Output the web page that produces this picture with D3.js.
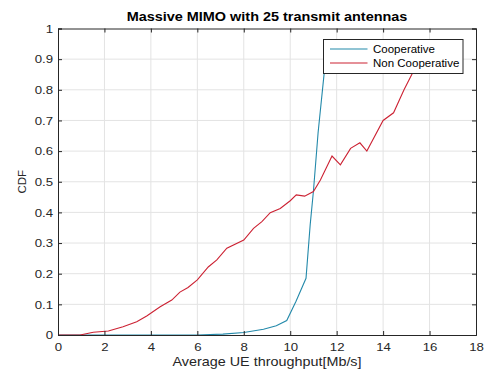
<!DOCTYPE html>
<html>
<head>
<meta charset="utf-8">
<script src="https://cdn.jsdelivr.net/npm/d3@7"></script>
<style>
    body { margin: 0; background: #ffffff; }
    svg { display: block; font-family: "Liberation Sans", Arial, sans-serif; }
    .grid line { stroke: #e3e3e3; stroke-width: 1; }
</style>
</head>
<body>
<svg class="chart"></svg>
<script>
var chartTitle = "Massive MIMO with 25 transmit antennas";
var xLabel = "Average UE throughput[Mb/s]";
var yLabel = "CDF";
var seriesNames = ["Cooperative", "Non Cooperative"];

var xTicks = [0, 2, 4, 6, 8, 10, 12, 14, 16, 18];
var yTicks = [0, 0.1, 0.2, 0.3, 0.4, 0.5, 0.6, 0.7, 0.8, 0.9, 1];

var coopX = [0, 6.0, 7.1, 8.0, 8.85, 9.4, 9.85, 10.25, 10.68, 10.86, 11.0, 11.2, 11.47, 11.55];
var coopY = [0, 0, 0.003, 0.008, 0.019, 0.03, 0.047, 0.11, 0.185, 0.36, 0.47, 0.66, 0.86, 0.95];

var nonCoopX = [0, 0.95, 1.52, 2.17, 2.8, 3.39, 3.82, 4.4, 4.9, 5.25, 5.6, 6.0, 6.47, 6.84, 7.27, 8.0,
    8.42, 8.78, 9.14, 9.57, 10.0, 10.26, 10.62, 11.0, 11.3, 11.8, 12.16, 12.6, 13.0, 13.3, 14.0,
    14.45, 14.9, 15.3, 15.7];
var nonCoopY = [0, 0, 0.009, 0.013, 0.027, 0.043, 0.062, 0.092, 0.114, 0.14, 0.155, 0.18, 0.222, 0.245, 0.283, 0.31,
    0.348, 0.37, 0.399, 0.413, 0.438, 0.457, 0.453, 0.468, 0.506, 0.584, 0.555, 0.609, 0.627, 0.6, 0.70,
    0.725, 0.80, 0.86, 0.93];

var seriesColors = ["#2389aa", "#cc2233"];

drawChart();

function zipSeries(xs, ys) {
    var points = [];
    for (var i = 0; i < xs.length; i++) {
        points.push({x: xs[i], y: ys[i]});
    }
    return points;
}

function drawChart() {
    var outerSize = {width: 488, height: 376};
    var margin = {top: 28.5, right: 12, bottom: 41, left: 58};
    var innerSize = {width: outerSize.width - margin.left - margin.right,
        height: outerSize.height - margin.top - margin.bottom};
    var axisColor = "#262626";
    var tickLength = 4;
    // the reference picture is a little wider than tall, so text gets a horizontal stretch
    var stretch = 1.12;

    var svg = d3.select(".chart")
            .attr("width", outerSize.width)
            .attr("height", outerSize.height);

    var chart = svg.append("g")
            .attr("transform", "translate(" + margin.left + "," + margin.top + ")");

    var xRange = d3.scaleLinear()
            .domain([0, 18])
            .range([0, innerSize.width]);
    var yRange = d3.scaleLinear()
            .domain([0, 1])
            .range([innerSize.height, 0]);

    // grid
    var grid = chart.append("g").attr("class", "grid");
    grid.selectAll(".vgrid")
            .data(xTicks.slice(1, -1))
            .enter().append("line")
            .attr("x1", function (d) { return xRange(d); })
            .attr("x2", function (d) { return xRange(d); })
            .attr("y1", 0)
            .attr("y2", innerSize.height);
    grid.selectAll(".hgrid")
            .data(yTicks.slice(1, -1))
            .enter().append("line")
            .attr("x1", 0)
            .attr("x2", innerSize.width)
            .attr("y1", function (d) { return yRange(d); })
            .attr("y2", function (d) { return yRange(d); });

    // series
    chart.append("clipPath")
            .attr("id", "plotClip")
            .append("rect")
            .attr("width", innerSize.width)
            .attr("height", innerSize.height);

    var line = d3.line()
            .x(function (p) { return xRange(p.x); })
            .y(function (p) { return yRange(p.y); });

    var series = [zipSeries(coopX, coopY), zipSeries(nonCoopX, nonCoopY)];
    chart.append("g")
            .attr("clip-path", "url(#plotClip)")
            .selectAll(".seriesLine")
            .data(series)
            .enter().append("path")
            .attr("class", "seriesLine")
            .attr("fill", "none")
            .attr("stroke", function (d, i) { return seriesColors[i]; })
            .attr("stroke-width", 1.1)
            .attr("d", line);

    // axes: box with inward ticks on every side
    chart.append("g")
            .attr("transform", "translate(0," + innerSize.height + ")")
            .call(d3.axisBottom(xRange).tickValues(xTicks).tickSize(-tickLength).tickPadding(7.5)
                    .tickFormat(d3.format("d")));
    chart.append("g")
            .call(d3.axisTop(xRange).tickValues(xTicks).tickSize(-tickLength).tickFormat(""));
    var yAxis = chart.append("g")
            .call(d3.axisLeft(yRange).tickValues(yTicks).tickSize(-tickLength)
                    .tickFormat(function (d) { return d === 0 || d === 1 ? d3.format("d")(d) : d3.format(".1f")(d); }));
    chart.append("g")
            .attr("transform", "translate(" + innerSize.width + ",0)")
            .call(d3.axisRight(yRange).tickValues(yTicks).tickSize(-tickLength).tickFormat(""));

    chart.selectAll(".domain").attr("stroke", axisColor);
    chart.selectAll(".tick line").attr("stroke", axisColor);
    chart.selectAll(".tick text")
            .style("font-family", "Liberation Sans, Arial, sans-serif")
            .style("font-size", "11.8px")
            .attr("fill", axisColor)
            .attr("transform", "scale(" + stretch + ",1)");
    yAxis.selectAll(".tick text").attr("x", -5 / stretch);

    // title and labels
    svg.append("text")
            .attr("transform", "translate(" + (margin.left + innerSize.width / 2) + ",20.5) scale(1.07,1)")
            .attr("text-anchor", "middle")
            .style("font-size", "13.5px")
            .style("font-weight", "bold")
            .attr("fill", "#000000")
            .text(chartTitle);

    svg.append("text")
            .attr("transform", "translate(" + (margin.left + innerSize.width / 2) + ",366) scale(1.15,1)")
            .attr("text-anchor", "middle")
            .style("font-size", "12.5px")
            .attr("fill", axisColor)
            .text(xLabel);

    svg.append("text")
            .attr("transform", "translate(26," + (margin.top + innerSize.height / 2) + ") rotate(-90)")
            .attr("text-anchor", "middle")
            .style("font-size", "11.5px")
            .attr("fill", axisColor)
            .text(yLabel);

    // legend
    var legend = svg.append("g")
            .attr("transform", "translate(323.5,39.5)");
    legend.append("rect")
            .attr("width", 139.5)
            .attr("height", 34)
            .attr("fill", "#ffffff")
            .attr("stroke", axisColor)
            .attr("stroke-width", 1);
    var entry = legend.selectAll(".legendEntry")
            .data(seriesNames)
            .enter().append("g")
            .attr("class", "legendEntry")
            .attr("transform", function (d, i) { return "translate(0," + (9.5 + i * 14) + ")"; });
    entry.append("line")
            .attr("x1", 6.5)
            .attr("x2", 44)
            .attr("stroke", function (d, i) { return seriesColors[i]; })
            .attr("stroke-width", 1.1);
    entry.append("text")
            .attr("x", 49.5)
            .attr("dy", "0.35em")
            .style("font-size", "11.5px")
            .attr("fill", "#000000")
            .text(function (d) { return d; });
}
</script>
</body>
</html>
